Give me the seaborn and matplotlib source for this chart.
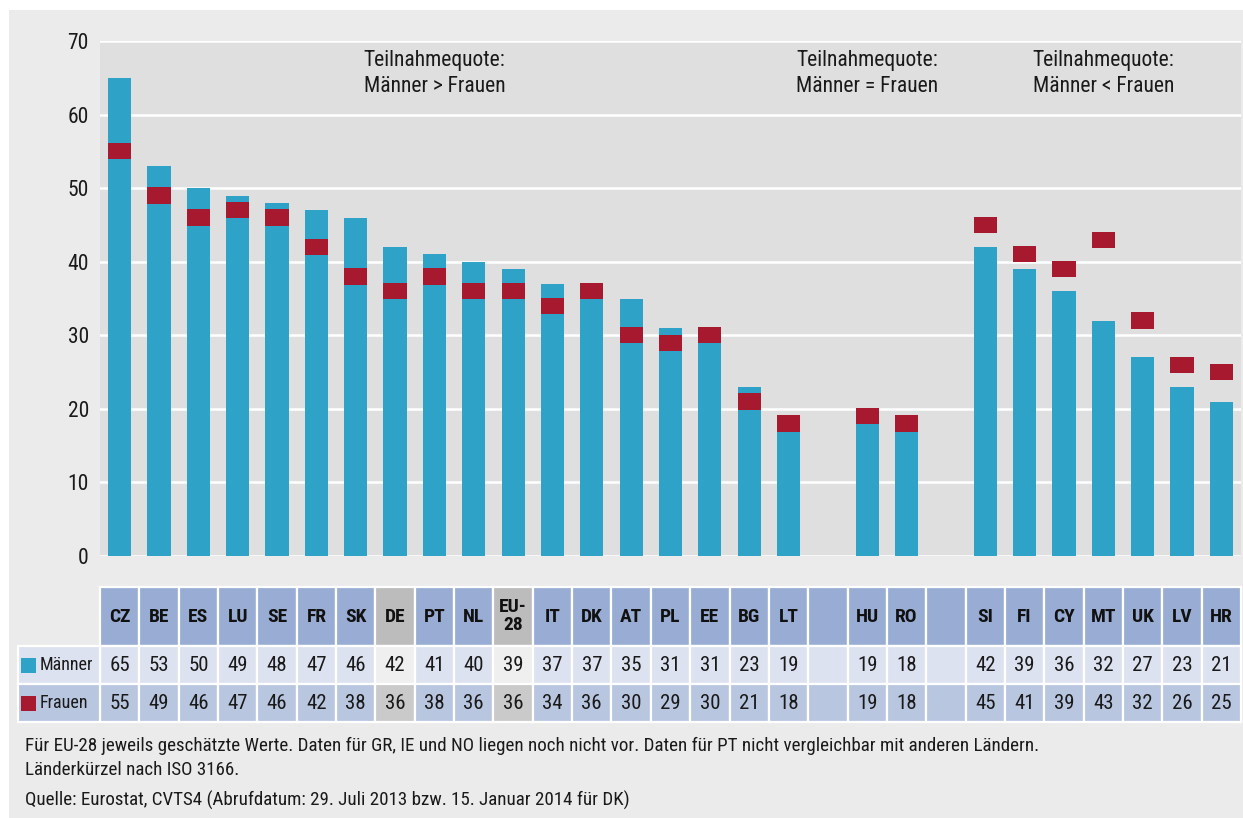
import matplotlib
matplotlib.use("Agg")
import matplotlib.pyplot as plt
import seaborn as sns
import pandas as pd
import numpy as np
from matplotlib.patches import Rectangle

# ---- data ---------------------------------------------------------------
countries = ["CZ", "BE", "ES", "LU", "SE", "FR", "SK", "DE", "PT", "NL", "EU-28",
             "IT", "DK", "AT", "PL", "EE", "BG", "LT", "HU", "RO",
             "SI", "FI", "CY", "MT", "UK", "LV", "HR"]
maenner = [65, 53, 50, 49, 48, 47, 46, 42, 41, 40, 39, 37, 37, 35, 31, 31, 23, 19,
           19, 18, 42, 39, 36, 32, 27, 23, 21]
frauen = [55, 49, 46, 47, 46, 42, 38, 36, 38, 36, 36, 34, 36, 30, 29, 30, 21, 18,
          19, 18, 45, 41, 39, 43, 32, 26, 25]
header_labels = ["CZ", "BE", "ES", "LU", "SE", "FR", "SK", "DE", "PT", "NL", "EU-\n28",
                 "IT", "DK", "AT", "PL", "EE", "BG", "LT", "HU", "RO",
                 "SI", "FI", "CY", "MT", "UK", "LV", "HR"]
highlighted = ["DE", "EU-28"]
group_titles = ["Teilnahmequote:\nMänner > Frauen",
                "Teilnahmequote:\nMänner = Frauen",
                "Teilnahmequote:\nMänner < Frauen"]
group_anchor = ["PT", "HU", "MT"]
footnotes = ["Für EU-28 jeweils geschätzte Werte. Daten für GR, IE und NO liegen noch nicht vor. "
             "Daten für PT nicht vergleichbar mit anderen Ländern.",
             "Länderkürzel nach ISO 3166.",
             "Quelle: Eurostat, CVTS4 (Abrufdatum: 29. Juli 2013 bzw. 15. Januar 2014 für DK)"]

# slot order along the x axis, with empty slots separating the three groups
slots = countries[:18] + ["_gap_a"] + countries[18:20] + ["_gap_b"] + countries[20:]

TEAL = "#2ea3c7"
RED = "#a6192e"
PANEL = "#ebebeb"
PLOT_BG = "#dfdfdf"
HEAD = "#99add4"
ROW_M = "#dde2f0"
ROW_F = "#b9c6e0"
HEAD_G = "#bbbcbb"
ROW_M_G = "#efefef"
ROW_F_G = "#c9cac9"
TXT = "#1a1a1a"

sns.set_theme(style="dark")
plt.rcParams["font.family"] = ["Roboto Condensed", "Noto Sans", "DejaVu Sans"]
plt.rcParams["font.stretch"] = "condensed"

W, H = 1243, 818
fig = plt.figure(figsize=(W / 100, H / 100), dpi=100, facecolor="white")

# light grey panel behind everything
fig.patches.append(Rectangle((9 / W, 0), 1 - 9 / W, 1 - 10 / H, transform=fig.transFigure,
                             facecolor=PANEL, edgecolor="none", zorder=-5))

L, R, T, B = 100, 1241, 41, 556
ax = fig.add_axes([L / W, 1 - B / H, (R - L) / W, (B - T) / H])
ax.set_facecolor(PLOT_BG)

df = pd.DataFrame({"land": countries, "maenner": maenner, "frauen": frauen})
sns.barplot(data=df, x="land", y="maenner", order=slots, color=TEAL, width=0.59,
            saturation=1, errorbar=None, ax=ax, zorder=2, linewidth=0)

pos = np.array([slots.index(c) for c in countries])
fr = np.array(frauen, dtype=float)
ax.bar(pos, 2.2, bottom=fr - 1.1, width=0.59, color=RED, zorder=3, linewidth=0)

ax.set_xlim(-0.5, len(slots) - 0.5)
ax.set_ylim(0, 69.6)
ax.set_yticks(range(0, 71, 10))
ax.yaxis.grid(True, color="white", linewidth=1.8)
ax.xaxis.grid(False)
ax.set_axisbelow(True)
ax.set_xticks([])
ax.set_xlabel("")
ax.set_ylabel("")
for s in ax.spines.values():
    s.set_visible(False)
ax.tick_params(axis="y", length=0, pad=8, labelsize=15.5, labelcolor=TXT)

for title, anchor in zip(group_titles, group_anchor):
    ax.text(slots.index(anchor), 65.6, title, ha="center", va="center",
            multialignment="center", fontsize=15.5, color=TXT, linespacing=1.3,
            zorder=4)

# ---- data table underneath ---------------------------------------------
slot_w = (R - L) / len(slots)


def px_to_x(px):
    return -0.5 + (px - L) / slot_w


TT, TB = 587, 722
tax = fig.add_axes([L / W, 1 - TB / H, (R - L) / W, (TB - TT) / H])
tax.set_xlim(ax.get_xlim())
tax.set_ylim(TB, TT)
tax.axis("off")

rows = [(587, 646), (646, 684), (684, 722)]
hl_slots = [slots.index(c) for c in highlighted]
for i, name in enumerate(slots):
    grey = i in hl_slots
    colors = [HEAD_G, ROW_M_G, ROW_F_G] if grey else [HEAD, ROW_M, ROW_F]
    for (y0, y1), c in zip(rows, colors):
        tax.add_patch(Rectangle((i - 0.5, y0), 1, y1 - y0, facecolor=c,
                                edgecolor="white", linewidth=1.6, clip_on=False))

for c, lab, m, f in zip(countries, header_labels, maenner, frauen):
    i = slots.index(c)
    tax.text(i, 616.5, lab, ha="center", va="center", multialignment="center",
             fontsize=14, fontweight="bold", color="#111111", linespacing=1.0)
    tax.text(i, 665.5, str(m), ha="center", va="center", fontsize=15, color=TXT)
    tax.text(i, 703.5, str(f), ha="center", va="center", fontsize=15, color=TXT)

# row labels with legend swatches
x0, x1 = px_to_x(18), -0.5
for (y0, y1), c, sw, lab in [(rows[1], ROW_M, TEAL, "Männer"),
                             (rows[2], ROW_F, RED, "Frauen")]:
    tax.add_patch(Rectangle((x0, y0), x1 - x0, y1 - y0, facecolor=c,
                            edgecolor="white", linewidth=1.6, clip_on=False))
    yc = (y0 + y1) / 2
    tax.add_patch(Rectangle((px_to_x(21), yc - 7.5), px_to_x(36) - px_to_x(21), 15,
                            facecolor=sw, edgecolor="none", clip_on=False))
    tax.text(px_to_x(40), yc + 0.5, lab, ha="left", va="center", fontsize=13,
             color=TXT)

# ---- footnotes ----------------------------------------------------------
for txt, y in zip(footnotes, [746, 770, 800]):
    fig.text(25 / W, 1 - y / H, txt, ha="left", va="center", fontsize=13.7,
             color=TXT)

fig.savefig("out.png", dpi=100, facecolor="white")
